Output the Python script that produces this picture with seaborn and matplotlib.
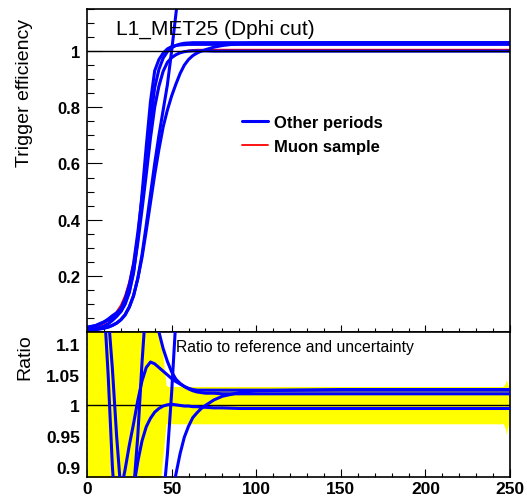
import numpy as np
import seaborn as sns
import matplotlib
matplotlib.use("Agg")
from matplotlib import pyplot as plt
from matplotlib.ticker import MultipleLocator

nan = np.nan

met = [0, 5, 10, 12.5, 15, 17.5, 20, 22.5, 25, 27.5, 30, 32.5, 35, 37.5, 40, 42.5,
       45, 47.5, 50, 52.5, 55, 57.5, 60, 62.5, 65, 67.5, 70, 75, 80, 90, 100, 150, 200, 250]

# reference: muon sample
muon_eff = [0.012, 0.018, 0.03, 0.04, 0.055, 0.072, 0.095, 0.13, 0.18, 0.25, 0.35, 0.46,
            0.58, 0.71, 0.81, 0.88, 0.93, 0.96, 0.975, 0.986, 0.994, 0.999, 1.002, 1.004,
            1.005, 1.005, 1.005, 1.005, 1.005, 1.005, 1.005, 1.005, 1.005, 1.005]

# other periods
eff_a = [0.016, 0.022, 0.035, 0.042, 0.05, 0.058, 0.072, 0.098, 0.14, 0.21, 0.33, 0.49,
         0.66, 0.82, 0.93, 0.97, 0.993, 1.008, 1.016, 1.02, 1.022, 1.023, 1.024, 1.024,
         1.024, 1.024, 1.024, 1.024, 1.024, 1.024, 1.024, 1.024, 1.024, 1.024]
eff_b = [0.017, 0.023, 0.036, 0.046, 0.058, 0.068, 0.083, 0.117, 0.168, 0.243, 0.353, 0.478,
         0.61, 0.75, 0.87, 0.935, 0.975, 0.998, 1.012, 1.02, 1.025, 1.028, 1.029, 1.03,
         1.03, 1.03, 1.03, 1.03, 1.03, 1.03, 1.03, 1.03, 1.03, 1.03]
eff_c = [0.005, 0.008, 0.013, 0.017, 0.023, 0.031, 0.043, 0.06, 0.088, 0.128, 0.19, 0.275,
         0.38, 0.49, 0.6, 0.7, 0.79, 0.88, 1.0, 1.13, 1.26, 1.39, nan, nan,
         nan, nan, nan, nan, nan, nan, nan, nan, nan, nan]
eff_d = [0.006, 0.009, 0.014, 0.018, 0.024, 0.032, 0.044, 0.062, 0.09, 0.13, 0.19, 0.265,
         0.36, 0.46, 0.56, 0.65, 0.73, 0.79, 0.84, 0.882, 0.92, 0.95, 0.97, 0.984,
         0.993, 1.0, 1.005, 1.014, 1.02, 1.027, 1.029, 1.03, 1.03, 1.03]
eff_e = [0.007, 0.012, 0.021, 0.029, 0.041, 0.055, 0.074, 0.104, 0.148, 0.215, 0.317, 0.435,
         0.56, 0.69, 0.8, 0.875, 0.928, 0.96, 0.977, 0.987, 0.994, 0.998, 1.0, 1.001,
         1.001, 1.001, 1.001, 1.0, 1.0, 1.0, 1.0, 1.0, 1.0, 1.0]

# ratios to the reference
ratio_a = [1.3, 1.25, 1.17, 1.05, 0.9, 0.8, 0.76, 0.75, 0.78, 0.86, 0.95, 1.07,
           1.17, 1.21, 1.18, 1.12, 1.093, 1.072, 1.055, 1.043, 1.036, 1.031, 1.027, 1.024,
           1.022, 1.021, 1.02, 1.02, 1.019, 1.019, 1.019, 1.019, 1.019, 1.019]
ratio_b = [1.4, 1.3, 1.2, 1.15, 1.06, 0.95, 0.86, 0.895, 0.935, 0.97, 1.008, 1.04,
           1.062, 1.071, 1.068, 1.062, 1.056, 1.05, 1.044, 1.039, 1.035, 1.031, 1.028, 1.026,
           1.025, 1.025, 1.025, 1.025, 1.025, 1.025, 1.025, 1.025, 1.025, 1.025]
ratio_c = [0.42, 0.44, 0.43, 0.42, 0.42, 0.43, 0.45, 0.46, 0.49, 0.51, 0.54, 0.6,
           0.66, 0.69, 0.73, 0.79, 0.845, 0.92, 1.02, 1.14, 1.26, 1.39, nan, nan,
           nan, nan, nan, nan, nan, nan, nan, nan, nan, nan]
ratio_d = [0.5, 0.5, 0.47, 0.45, 0.44, 0.44, 0.46, 0.48, 0.5, 0.52, 0.54, 0.58,
           0.62, 0.65, 0.68, 0.73, 0.78, 0.82, 0.853, 0.887, 0.921, 0.948, 0.966, 0.98,
           0.988, 0.995, 1.0, 1.009, 1.015, 1.021, 1.024, 1.026, 1.026, 1.026]
ratio_e = [0.6, 0.62, 0.68, 0.71, 0.74, 0.77, 0.79, 0.81, 0.83, 0.865, 0.908, 0.942,
           0.965, 0.979, 0.989, 0.995, 0.999, 1.001, 1.002, 1.001, 1.0, 0.999, 0.999, 0.998,
           0.998, 0.997, 0.997, 0.996, 0.996, 0.995, 0.995, 0.995, 0.995, 0.995]

# uncertainty band of the reference
band_met = [0, 42, 43.5, 46.7, 48, 246, 247.2, 247.8, 248.4, 249.2]
band_up = [1.2, 1.17, 1.12, 1.033, 1.031, 1.031, 1.036, 1.042, 1.036, 1.031]
band_dn = [0.8, 0.83, 0.88, 0.97, 0.97, 0.97, 0.962, 0.952, 0.962, 0.97]

sns.set_style("white", {"axes.edgecolor": "black", "text.color": "black",
                        "xtick.color": "black", "ytick.color": "black",
                        "axes.labelcolor": "black"})
plt.rcParams['font.family'] = ['Liberation Sans', 'DejaVu Sans']

fig = plt.figure(figsize=(5.27, 5.02), dpi=100)
ax_top = fig.add_axes([0.1651, 0.3367, 0.8027, 0.6434])
ax_bot = fig.add_axes([0.1651, 0.0478, 0.8027, 0.2888])

# top panel
sns.lineplot(x=met, y=muon_eff, color="red", lw=1.3, ax=ax_top, estimator=None, sort=False)
red_h = ax_top.lines[-1]
blue_h = None
for eff in [eff_a, eff_b, eff_c, eff_d, eff_e]:
    sns.lineplot(x=met, y=eff, color="blue", lw=2.2, ax=ax_top, estimator=None, sort=False)
    if blue_h is None:
        blue_h = ax_top.lines[-1]
ax_top.axhline(1, color="black", lw=1.0, zorder=5)

ax_top.set_xlim(0, 250)
ax_top.set_ylim(0, 1.15)
ax_top.set_yticks([0.2, 0.4, 0.6, 0.8, 1.0], labels=["0.2", "0.4", "0.6", "0.8", "1"],
                  fontweight="bold", fontsize=12)
ax_top.set_xticks([0, 50, 100, 150, 200, 250])
ax_top.xaxis.set_minor_locator(MultipleLocator(10))
ax_top.yaxis.set_minor_locator(MultipleLocator(0.05))
ax_top.tick_params(axis="y", which="major", direction="in", length=10.5, width=0.8, pad=5,
                   left=True, right=False)
ax_top.tick_params(axis="y", which="minor", direction="in", length=5, width=0.8, left=True, right=False)
ax_top.tick_params(axis="x", which="major", direction="in", length=5.3, width=0.8,
                   bottom=True, top=False, labelbottom=False)
ax_top.tick_params(axis="x", which="minor", direction="in", length=2.9, width=0.8, bottom=True, top=False)
ax_top.set_ylabel("Trigger efficiency", fontsize=14, va="center")
ax_top.yaxis.set_label_coords(-0.148, 0.743)
ax_top.text(0.0686, 0.941, "L1_MET25 (Dphi cut)", transform=ax_top.transAxes,
            fontsize=15, ha="left", va="center")
ax_top.legend(handles=[blue_h, red_h], labels=["Other periods", "Muon sample"],
              loc="upper left", bbox_to_anchor=(0.366, 0.672), frameon=False,
              prop={"weight": "bold", "size": 12}, handlelength=1.55, handletextpad=0.35,
              labelspacing=0.55, borderpad=0, borderaxespad=0)

# ratio panel
ax_bot.fill_between(band_met, band_dn, band_up, color="yellow", lw=0, zorder=1)
ax_bot.axhline(1, color="black", lw=1.0, zorder=2)
for r in [ratio_a, ratio_b, ratio_c, ratio_d, ratio_e]:
    sns.lineplot(x=met, y=r, color="blue", lw=2.2, ax=ax_bot, estimator=None, sort=False, zorder=3)

ax_bot.set_xlim(0, 250)
ax_bot.set_ylim(0.883, 1.12)
ax_bot.set_yticks([0.9, 0.95, 1.0, 1.05, 1.1], labels=["0.9", "0.95", "1", "1.05", "1.1"],
                  fontweight="bold", fontsize=12.5)
ax_bot.set_xticks([0, 50, 100, 150, 200, 250], labels=["0", "50", "100", "150", "200", "250"],
                  fontweight="bold", fontsize=12.5)
ax_bot.xaxis.set_minor_locator(MultipleLocator(10))
ax_bot.yaxis.set_minor_locator(MultipleLocator(0.01))
ax_bot.tick_params(axis="y", which="major", direction="in", length=9.4, width=0.8, pad=5,
                   left=True, right=False)
ax_bot.tick_params(axis="y", which="minor", direction="in", length=4.6, width=0.8, left=True, right=False)
ax_bot.tick_params(axis="x", which="major", direction="in", length=5.5, width=0.8, pad=3,
                   bottom=True, top=False)
ax_bot.tick_params(axis="x", which="minor", direction="in", length=2.9, width=0.8, bottom=True, top=False)
ax_bot.set_ylabel("Ratio", fontsize=14, va="center")
ax_bot.yaxis.set_label_coords(-0.148, 0.831)
ax_bot.text(0.2097, 0.897, "Ratio to reference and uncertainty", transform=ax_bot.transAxes,
            fontsize=11.3, ha="left", va="center")

for ax in (ax_top, ax_bot):
    for s in ax.spines.values():
        s.set_linewidth(1.2)
        s.set_color("black")

fig.savefig("out.png", dpi=100)
